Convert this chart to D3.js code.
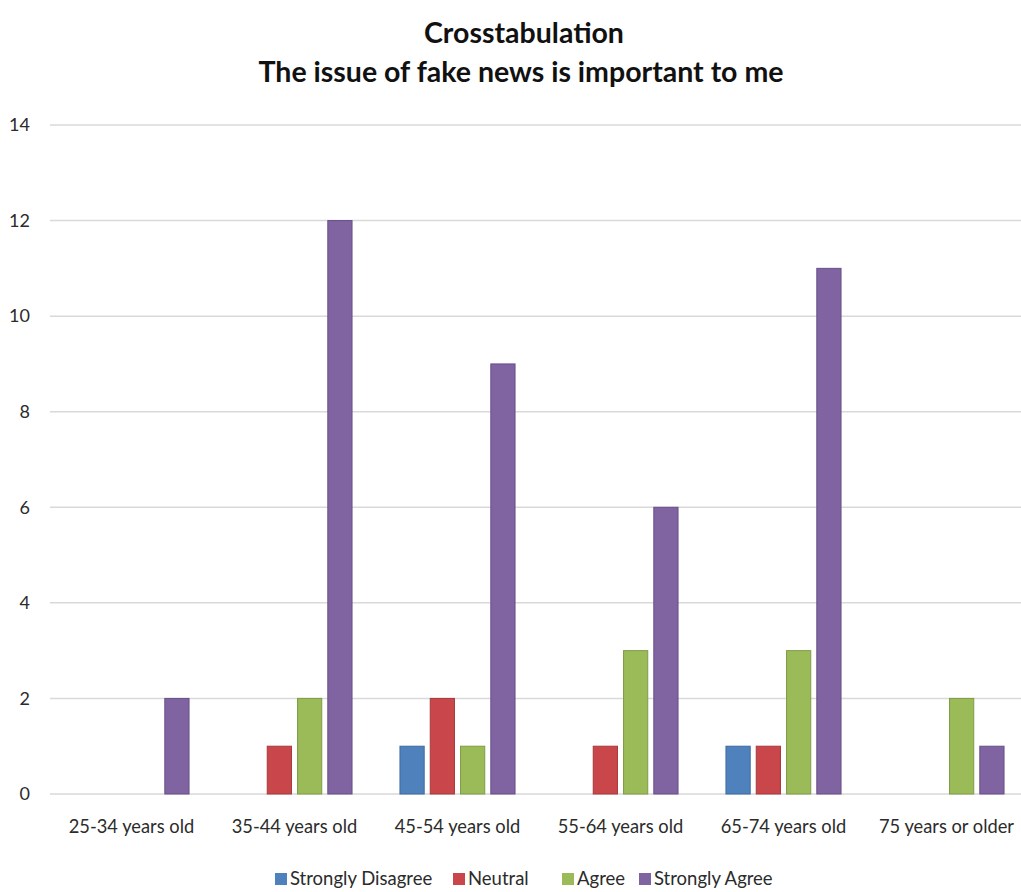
<!DOCTYPE html>
<html>
<head>
<meta charset="utf-8">
<script src="https://cdn.jsdelivr.net/npm/d3@7"></script>
<style>
  body { margin: 0; background: #fff; }
  svg { display: block; font-family: Lato, "Open Sans", sans-serif; }
</style>
</head>
<body>
<svg id="chart" width="1021" height="892"></svg>
<script>
// Data
const ageGroups = ["25-34 years old", "35-44 years old", "45-54 years old", "55-64 years old", "65-74 years old", "75 years or older"];
const responses = ["Strongly Disagree", "Neutral", "Agree", "Strongly Agree"];
const stronglyDisagree = [0, 0, 1, 0, 1, 0];
const neutral = [0, 1, 2, 1, 1, 0];
const agree = [0, 2, 1, 3, 3, 2];
const stronglyAgree = [2, 12, 9, 6, 11, 1];
const yTicks = [0, 2, 4, 6, 8, 10, 12, 14];
const colors = ["#4f81bd", "#c9474a", "#9bbb59", "#8064a2"];
const strokes = ["#3d6a9e", "#a53a3d", "#7f9b46", "#674f86"];

const series = [stronglyDisagree, neutral, agree, stronglyAgree];

document.addEventListener("DOMContentLoaded", function() {
    const svg = d3.select("#chart");
    const width = 1021;
    const margin = {top: 125, bottom: 98, left: 50};
    const plotBottom = 892 - margin.bottom;
    const textColor = "#2b2b2b";

    // Scales
    const x0 = d3.scaleBand().domain(ageGroups).range([margin.left, 1028])
        .paddingInner(0.294).paddingOuter(0.147);
    const x1 = d3.scaleBand().domain(d3.range(responses.length)).range([0, x0.bandwidth()])
        .paddingInner(0.2);
    const y = d3.scaleLinear().domain([0, 14]).range([plotBottom, margin.top]);

    // Title
    svg.append("text")
        .attr("x", 524).attr("y", 43)
        .attr("text-anchor", "middle")
        .style("font-size", "28.5px").style("font-weight", "bold").style("fill", "#111")
        .text("Crosstabulation");
    svg.append("text")
        .attr("x", 521).attr("y", 82)
        .attr("text-anchor", "middle")
        .style("font-size", "28.5px").style("font-weight", "bold").style("fill", "#111")
        .text("The issue of fake news is important to me");

    // Gridlines
    svg.append("g").selectAll("line")
        .data(yTicks)
        .enter().append("line")
        .attr("x1", margin.left).attr("x2", width)
        .attr("y1", d => y(d)).attr("y2", d => y(d))
        .attr("stroke", "#d9d9d9").attr("stroke-width", 1.5);

    // Y axis labels
    svg.append("g").selectAll("text")
        .data(yTicks)
        .enter().append("text")
        .attr("x", 30).attr("y", d => y(d))
        .attr("dy", "0.35em")
        .attr("text-anchor", "end")
        .style("font-size", "18px").style("fill", textColor)
        .text(d => d);

    // Bars
    const groups = svg.append("g").selectAll("g")
        .data(ageGroups)
        .enter().append("g")
        .attr("transform", d => `translate(${x0(d)},0)`);

    groups.selectAll("rect")
        .data((d, gi) => series.map((s, si) => ({si: si, value: s[gi]})).filter(v => v.value > 0))
        .enter().append("rect")
        .attr("x", d => x1(d.si))
        .attr("width", x1.bandwidth())
        .attr("y", d => y(d.value))
        .attr("height", d => y(0) - y(d.value))
        .attr("fill", d => colors[d.si])
        .attr("stroke", d => strokes[d.si])
        .attr("stroke-width", 1);

    // X axis labels
    svg.append("g").selectAll("text")
        .data(ageGroups)
        .enter().append("text")
        .attr("x", d => x0(d) + x0.bandwidth() / 2)
        .attr("y", 833)
        .attr("text-anchor", "middle")
        .style("font-size", "18.3px").style("fill", textColor)
        .text(d => d);

    // Legend
    const legendX = [275, 453, 562, 639];
    const legend = svg.append("g").selectAll("g")
        .data(responses)
        .enter().append("g")
        .attr("transform", (d, i) => `translate(${legendX[i]},873)`);
    legend.append("rect")
        .attr("width", 12).attr("height", 12)
        .attr("fill", (d, i) => colors[i]);
    legend.append("text")
        .attr("x", 15).attr("y", 6)
        .attr("dy", "0.35em")
        .style("font-size", "18.5px").style("fill", textColor)
        .text(d => d);
});
</script>
</body>
</html>
